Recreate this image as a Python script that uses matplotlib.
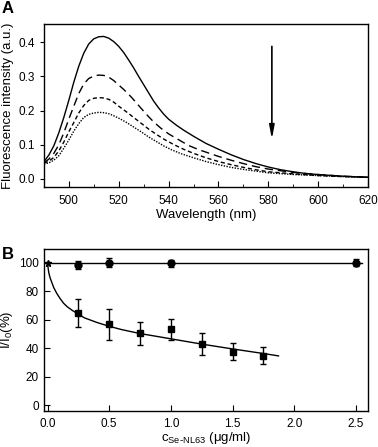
import numpy as np
import matplotlib
matplotlib.use('Agg')
import matplotlib.pyplot as plt

plt.rcParams['font.family'] = ['Liberation Sans', 'DejaVu Sans']

# --- panel A: emission spectra ---
wl_solid = [490, 492, 494, 496, 498, 500, 502, 504, 506, 508, 510, 512, 514, 516, 518, 520, 522,
            524, 526, 528, 530, 532, 534, 536, 538, 540, 543, 546, 550, 555, 560, 565, 570, 575,
            580, 585, 590, 595, 600, 610, 620]
int_solid = [0.05, 0.07, 0.097, 0.135, 0.18, 0.23, 0.283, 0.33, 0.368, 0.395, 0.410, 0.416, 0.417,
             0.412, 0.402, 0.388, 0.37, 0.348, 0.325, 0.30, 0.276, 0.252, 0.228, 0.208, 0.19,
             0.175, 0.158, 0.143, 0.125, 0.104, 0.087, 0.071, 0.057, 0.045, 0.035, 0.027, 0.021,
             0.016, 0.013, 0.008, 0.005]

wl_dash = [490, 492, 494, 496, 498, 500, 502, 504, 506, 508, 510, 512, 514, 516, 518, 520, 522,
           525, 528, 531, 534, 537, 540, 544, 548, 552, 556, 560, 565, 570, 575, 580, 590, 600,
           610, 620]
int_dash = [0.047, 0.058, 0.075, 0.1, 0.135, 0.175, 0.213, 0.25, 0.278, 0.294, 0.301, 0.304, 0.303,
            0.298, 0.288, 0.275, 0.262, 0.24, 0.215, 0.19, 0.167, 0.148, 0.132, 0.115, 0.098,
            0.086, 0.076, 0.066, 0.055, 0.045, 0.036, 0.029, 0.019, 0.013, 0.008, 0.005]

wl_sdash = [490, 492, 494, 496, 498, 500, 502, 504, 506, 508, 510, 512, 514, 516, 518, 520, 523,
            526, 529, 532, 535, 538, 542, 546, 550, 555, 560, 565, 570, 575, 580, 590, 600, 610,
            620]
int_sdash = [0.046, 0.052, 0.063, 0.082, 0.108, 0.138, 0.165, 0.193, 0.215, 0.23, 0.236, 0.238,
             0.237, 0.233, 0.225, 0.213, 0.197, 0.18, 0.163, 0.146, 0.131, 0.117, 0.101, 0.087,
             0.075, 0.062, 0.051, 0.042, 0.034, 0.027, 0.021, 0.015, 0.010, 0.007, 0.005]

wl_dot = [490, 492, 494, 496, 498, 500, 502, 504, 506, 508, 510, 512, 514, 516, 518, 520, 523,
          526, 529, 532, 535, 538, 541, 545, 550, 555, 560, 565, 570, 575, 580, 590, 600, 610, 620]
int_dot = [0.044, 0.047, 0.055, 0.068, 0.09, 0.114, 0.14, 0.162, 0.18, 0.189, 0.193, 0.195, 0.194,
           0.191, 0.185, 0.178, 0.166, 0.152, 0.138, 0.123, 0.11, 0.097, 0.086, 0.074, 0.062,
           0.051, 0.042, 0.034, 0.028, 0.023, 0.018, 0.013, 0.010, 0.007, 0.005]

# --- panel B: relative intensity ---
conc_circ = [0.0, 0.25, 0.5, 1.0, 2.5]
rel_circ = [100, 98.5, 100, 99.5, 100]
err_circ = [0, 3, 3, 2.7, 2.7]

conc_sq = [0.0, 0.25, 0.5, 0.75, 1.0, 1.25, 1.5, 1.75]
rel_sq = [100, 64.8, 56.6, 50.3, 53.1, 42.8, 37.4, 34.6]
err_sq = [0, 10, 11, 8, 7.5, 8, 6, 6]

fit_x = [0.0, 0.005, 0.01, 0.02, 0.035, 0.05, 0.075, 0.1, 0.13, 0.16, 0.2, 0.25, 0.3, 0.4, 0.5,
         0.6, 0.75, 0.9, 1.0, 1.25, 1.5, 1.75, 1.873]
fit_y = [100, 96, 93, 89.5, 86, 82.5, 78.4, 75, 71.5, 69, 66.5, 63.8, 61.2, 58, 55.3, 53, 50.2,
         48, 46.5, 42.8, 39.4, 36.2, 34.5]

fig = plt.figure(figsize=(3.78, 4.47), dpi=100)
axA = fig.add_axes([0.116, 0.582, 0.858, 0.364])
axB = fig.add_axes([0.116, 0.0805, 0.858, 0.3625])

lw = 1.0
axA.plot(wl_solid, int_solid, color='black', lw=lw)
axA.plot(wl_dash, int_dash, color='black', lw=lw, dashes=(6, 3.5))
axA.plot(wl_sdash, int_sdash, color='black', lw=lw, dashes=(3, 2))
axA.plot(wl_dot, int_dot, color='black', lw=lw, dashes=(1, 1))
axA.annotate('', xy=(581.4, 0.108), xytext=(581.4, 0.396),
             arrowprops=dict(arrowstyle='-|>,head_length=0.8,head_width=0.15', color='black', lw=1.2))
axA.set_xlim(490, 620)
axA.set_ylim(-0.023, 0.453)
axA.set_xticks(np.arange(500, 621, 20))
axA.set_xticks(np.arange(490, 621, 10), minor=True)
axA.set_yticks([0.0, 0.1, 0.2, 0.3, 0.4])
axA.tick_params(axis='x', which='both', direction='in', top=False, labelsize=8.5, pad=6)
axA.tick_params(axis='x', which='major', length=4.5)
axA.tick_params(axis='x', which='minor', length=2.5)
axA.tick_params(axis='y', direction='out', right=False, labelsize=8.5, length=3)
axA.set_xlabel('Wavelength (nm)', fontsize=9.5, labelpad=1)
axA.set_ylabel('Fluorescence intensity (a.u.)', fontsize=9.5, labelpad=3)
for s in axA.spines.values():
    s.set_linewidth(1.0)

axB.axhline(100, xmin=0.0, xmax=(2.55 + 0.03) / 2.63, color='black', lw=lw)
axB.plot(fit_x, fit_y, color='black', lw=lw)
axB.errorbar(conc_circ[1:], rel_circ[1:], yerr=err_circ[1:], fmt='o', color='black', ms=5,
             capsize=2.5, elinewidth=1, capthick=1)
axB.errorbar(conc_sq[1:], rel_sq[1:], yerr=err_sq[1:], fmt='s', color='black', ms=5,
             capsize=2.5, elinewidth=1, capthick=1)
# the shared starting point is drawn small
axB.plot(conc_sq[0], rel_sq[0], marker='*', color='black', ms=5, clip_on=False)
axB.set_xlim(-0.03, 2.6)
axB.set_ylim(-4.2, 109.6)
axB.set_xticks([0.0, 0.5, 1.0, 1.5, 2.0, 2.5])
axB.set_xticklabels(['0.0', '0.5', '1.0', '1.5', '2.0', '2.5'])
axB.set_yticks([0, 20, 40, 60, 80, 100])
axB.tick_params(direction='in', labelsize=8.5, length=4)
axB.tick_params(axis='x', pad=5)
axB.set_xlabel(r'c$_{\mathregular{Se\text{-}NL63}}$ ($\mathregular{\mu}$g/ml)', fontsize=9.5, labelpad=0)
axB.set_ylabel(r'I/I$_{\mathregular{0}}$(%)', fontsize=9.5, labelpad=3)
for s in axB.spines.values():
    s.set_linewidth(1.0)

fig.text(0.005, 0.998, 'A', fontsize=12, fontweight='bold', va='top', ha='left')
fig.text(0.005, 0.448, 'B', fontsize=12, fontweight='bold', va='top', ha='left')

fig.savefig('out.png', dpi=100)
